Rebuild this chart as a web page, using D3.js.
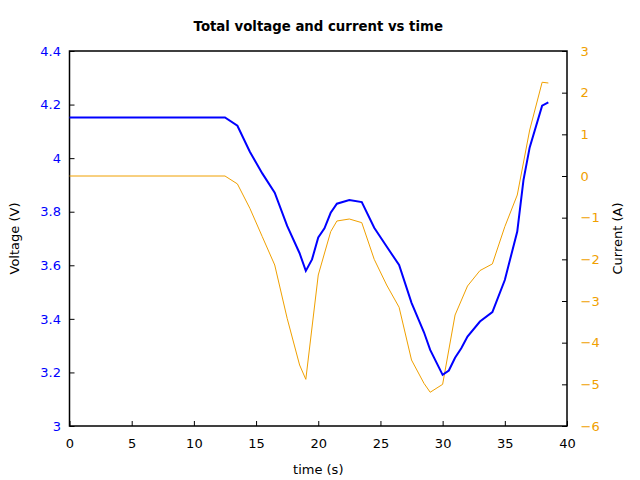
<!DOCTYPE html>
<html><head><meta charset="utf-8">
<script src="https://cdn.jsdelivr.net/npm/d3@7"></script>
<style>body{margin:0;background:#fff}svg{display:block}text{font-family:"DejaVu Sans",sans-serif}</style>
</head><body><svg id="c" width="640" height="480"></svg>
<script>
const voltTime = [0, 12.5, 13.5, 14.5, 15.5, 16.5, 17.5, 18.5, 19, 19.5, 20, 20.5, 21, 21.5, 22.5, 23.5, 24.5, 25.5, 26.5, 27.5, 28.5, 29, 30, 30.5, 31, 31.5, 32, 33, 34, 35, 36, 36.5, 37, 38, 38.5];
const voltage  = [4.152, 4.152, 4.121, 4.024, 3.943, 3.871, 3.747, 3.645, 3.579, 3.622, 3.704, 3.738, 3.796, 3.830, 3.844, 3.836, 3.740, 3.670, 3.601, 3.460, 3.350, 3.284, 3.191, 3.207, 3.255, 3.290, 3.334, 3.390, 3.425, 3.545, 3.726, 3.918, 4.040, 4.196, 4.208];
const currTime = [0, 12.5, 13.5, 14.5, 15.5, 16.5, 17.5, 18.5, 19, 20, 21, 21.5, 22.5, 23.5, 24.5, 25.5, 26.5, 27.5, 28.5, 29, 30, 31, 32, 33, 34, 35, 36, 37, 38, 38.5];
const current  = [0, 0, -0.19, -0.775, -1.456, -2.136, -3.415, -4.536, -4.88, -2.376, -1.336, -1.08, -1.032, -1.12, -2.0, -2.616, -3.15, -4.416, -4.976, -5.19, -5.0, -3.336, -2.64, -2.27, -2.11, -1.216, -0.456, 1.104, 2.25, 2.232];
const xTicks = [0, 5, 10, 15, 20, 25, 30, 35, 40];
const vTicks = [3, 3.2, 3.4, 3.6, 3.8, 4, 4.2, 4.4];
const iTicks = [-6, -5, -4, -3, -2, -1, 0, 1, 2, 3];

const BLUE = "#0000ff", ORANGE = "#f0a000";
const svg = d3.select("#c");
const L = 69.5, R = 567, T = 51, B = 426;
const x = d3.scaleLinear().domain([0, 40]).range([L, R]);
const yv = d3.scaleLinear().domain([3, 4.4]).range([B, T]);
const yi = d3.scaleLinear().domain([-6, 3]).range([B, T]);
const fs = "13px";

// frame
svg.append("rect").attr("x", L).attr("y", T).attr("width", R - L).attr("height", B - T)
  .attr("fill", "none").attr("stroke", "#000").attr("stroke-width", 1.5);

// bottom axis
const xa = svg.append("g").attr("transform", `translate(0,${B})`)
  .call(d3.axisBottom(x).tickValues(xTicks).tickFormat(d3.format("d")).tickSizeInner(-5).tickSizeOuter(0).tickPadding(13));
xa.select(".domain").remove();
xa.selectAll("text").attr("font-size", fs).attr("fill", "#000").attr("font-family", "DejaVu Sans");
xa.selectAll("line").attr("stroke", "#000");

// left axis
const fmtV = d => (d === 3 || d === 4) ? String(d) : d3.format(".1f")(d);
const ya = svg.append("g").attr("transform", `translate(${L},0)`)
  .call(d3.axisLeft(yv).tickValues(vTicks).tickFormat(fmtV).tickSizeInner(-5).tickSizeOuter(0).tickPadding(8.5));
ya.select(".domain").remove();
ya.selectAll("text").attr("font-size", fs).attr("fill", BLUE).attr("font-family", "DejaVu Sans");
ya.selectAll("line").attr("stroke", "#000");

// right axis
const ia = svg.append("g").attr("transform", `translate(${R},0)`)
  .call(d3.axisRight(yi).tickValues(iTicks).tickFormat(d3.format("d")).tickSizeInner(-5).tickSizeOuter(0).tickPadding(13.5));
ia.select(".domain").remove();
ia.selectAll("text").attr("font-size", fs).attr("fill", ORANGE).attr("font-family", "DejaVu Sans");
ia.selectAll("line").attr("stroke", "#000");

// lines
const cl = svg.append("g");
cl.append("path").datum(currTime.map((t, i) => [t, current[i]]))
  .attr("d", d3.line().x(d => x(d[0])).y(d => yi(d[1])))
  .attr("fill", "none").attr("stroke", ORANGE).attr("stroke-width", 1);
cl.append("path").datum(voltTime.map((t, i) => [t, voltage[i]]))
  .attr("d", d3.line().x(d => x(d[0])).y(d => yv(d[1])))
  .attr("fill", "none").attr("stroke", BLUE).attr("stroke-width", 2);

// titles
svg.append("text").attr("x", (L + R) / 2).attr("y", 31).attr("text-anchor", "middle")
  .attr("font-size", "13.3px").attr("font-weight", "bold").text("Total voltage and current vs time");
svg.append("text").attr("x", (L + R) / 2).attr("y", 474).attr("text-anchor", "middle")
  .attr("font-size", fs).text("time (s)");
svg.append("text").attr("transform", `translate(19,${(T + B) / 2}) rotate(-90)`).attr("text-anchor", "middle")
  .attr("font-size", fs).text("Voltage (V)");
svg.append("text").attr("transform", `translate(622,${(T + B) / 2}) rotate(-90)`).attr("text-anchor", "middle")
  .attr("font-size", fs).text("Current (A)");
</script></body></html>
